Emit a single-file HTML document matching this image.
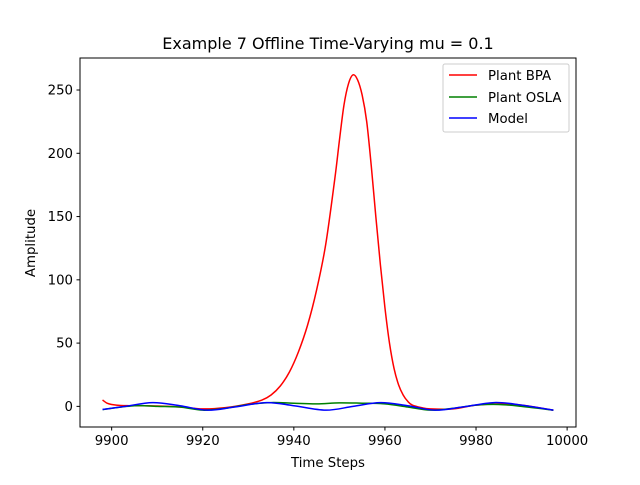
<!DOCTYPE html>
<html><head><meta charset="utf-8"><style>
body{margin:0;background:#fff}
svg text{font-family:"DejaVu Sans","Liberation Sans",sans-serif;fill:#000}
</style></head><body>
<svg id="chart" width="640" height="480" xmlns="http://www.w3.org/2000/svg">
<rect width="640" height="480" fill="#fff"/>
<text x="328" y="49" font-size="16" text-anchor="middle">Example 7 Offline Time-Varying mu = 0.1</text>
<g id="plot"></g>
<rect x="80" y="58" width="496" height="369" fill="none" stroke="#000" stroke-width="1"/>
<text x="328" y="467" font-size="13.3" text-anchor="middle">Time Steps</text>
<text transform="translate(35,243) rotate(-90)" font-size="13.3" text-anchor="middle">Amplitude</text>
<g>
<rect x="443" y="64" width="126" height="68" fill="#fff" stroke="#ccc" rx="2"/>
<line x1="449" y1="75" x2="477" y2="75" stroke="red" stroke-width="1.5"/>
<text x="488" y="80" font-size="13.3">Plant BPA</text>
<line x1="449" y1="97" x2="477" y2="97" stroke="green" stroke-width="1.5"/>
<text x="488" y="102" font-size="13.3">Plant OSLA</text>
<line x1="449" y1="118" x2="477" y2="118" stroke="blue" stroke-width="1.5"/>
<text x="488" y="123" font-size="13.3">Model</text>
</g>
</svg>
<script>
const xTicks=[9900,9920,9940,9960,9980,10000];
const yTicks=[0,50,100,150,200,250];
const bpaX=[9898,9899,9900,9902,9905,9910,9915,9920,9925,9930,9933,9935,9937,9939,9941,9943,9945,9947,9949,9950,9951,9952,9953,9954,9955,9956,9957,9958,9959,9960,9961,9962,9963,9964,9965,9966,9968,9970,9975,9980,9985,9990,9997];
const bpaY=[5,2.5,1.5,0.7,0.5,0.3,-0.5,-2,-1,2,5,9,16,27,43,64,92,128,180,210,238,255,262,258,246,225,190,150,112,78,50,30,17,9,4,1,-1,-2,-2,1,2,1,-3];
const oslaX=[9898,9905,9910,9915,9920,9925,9930,9935,9940,9945,9950,9955,9960,9965,9970,9975,9980,9985,9990,9997];
const oslaY=[-2.5,0.5,0,-0.5,-3,-1.5,1.5,3,2.5,2,2.8,2.5,2,-0.5,-3,-1.5,1,1.5,0,-3];
const modelX=[9898,9903,9909,9915,9921,9927,9934,9940,9947,9953,9959,9965,9971,9977,9984,9990,9997];
const modelY=[-2.5,0,3,0.5,-3,-0.5,3,0.5,-3,0,3,0.5,-3,-0.5,3,1,-3];
const X=v=>80+(v-9893.05)/(10001.95-9893.05)*496;
const Y=v=>427-(v+16.3)/(275.3+16.3)*369;
const g=document.getElementById('plot');
const NS='http://www.w3.org/2000/svg';
function mk(t,a){const e=document.createElementNS(NS,t);for(const k in a)e.setAttribute(k,a[k]);g.appendChild(e);return e;}
xTicks.forEach(t=>{
 const l=mk('line',{x1:X(t),x2:X(t),y1:427,y2:430.5,stroke:'#000'});
 
 
 const s=mk('text',{x:X(t),y:445,'font-size':'13.3','text-anchor':'middle'});s.textContent=t;
 
 
});
yTicks.forEach(t=>{
 const l=mk('line',{x1:76.5,x2:80,y1:Y(t),y2:Y(t),stroke:'#000'});
 
 
 const s=mk('text',{x:73,y:Y(t)+4.5,'font-size':'13.3','text-anchor':'end'});s.textContent=t;
 
 
});
function line(xs,ys,c,name){
 const P=xs.map((x,i)=>[X(x),Y(ys[i])]);
 let d='M'+P[0][0].toFixed(2)+','+P[0][1].toFixed(2);
 for(let i=0;i<P.length-1;i++){
  const p0=P[Math.max(0,i-1)],p1=P[i],p2=P[i+1],p3=P[Math.min(P.length-1,i+2)];
  const c1=[p1[0]+(p2[0]-p0[0])/6,p1[1]+(p2[1]-p0[1])/6];
  const c2=[p2[0]-(p3[0]-p1[0])/6,p2[1]-(p3[1]-p1[1])/6];
  d+='C'+c1.map(v=>v.toFixed(2)).join(',')+' '+c2.map(v=>v.toFixed(2)).join(',')+' '+p2.map(v=>v.toFixed(2)).join(',');
 }
 const p=mk('path',{d:d,fill:'none',stroke:c,'stroke-width':1.5,'stroke-linejoin':'round'});
 
 
}
line(bpaX,bpaY,'red','plant-bpa-line');
line(oslaX,oslaY,'green','plant-osla-line');
line(modelX,modelY,'blue','model-line');
</script>
</body></html>
